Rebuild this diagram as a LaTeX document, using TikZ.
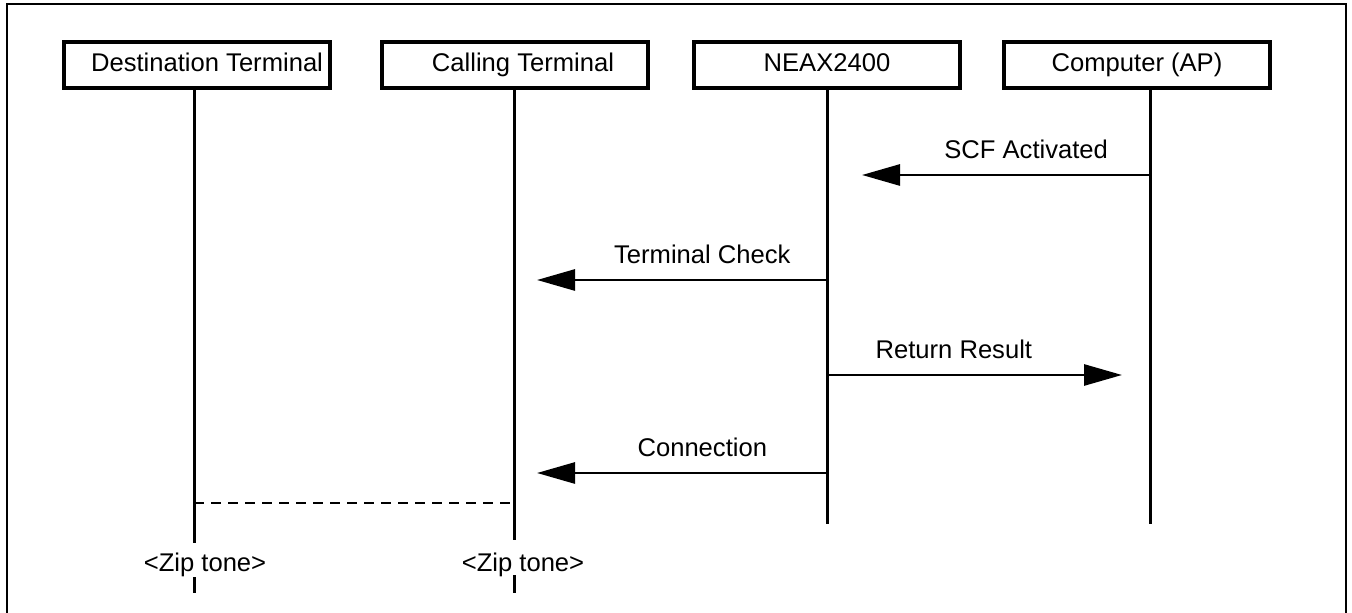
\documentclass[tikz,border=0pt]{standalone}
\usepackage{fontspec}
\setmainfont{Liberation Sans}
\usetikzlibrary{arrows.meta}
\begin{document}
\begin{tikzpicture}[x=0.5pt,y=-0.5pt,
  actor/.style={draw,line width=1.7pt,minimum width=133pt,minimum height=23pt,inner sep=0pt,
    text height=9pt,text depth=2.5pt,font=\fontsize{12.8pt}{15pt}\selectfont},
  lifeline/.style={line width=1.5pt},
  msg/.style={line width=1.4pt,-{Triangle[length=19pt,width=10.5pt]}},
  lbl/.style={font=\fontsize{12.8pt}{15pt}\selectfont,inner sep=0pt,anchor=base},
  tone/.style={line width=1.4pt,dash pattern=on 5pt off 3.5pt},
  frame/.style={line width=1.4pt}
]
\useasboundingbox (0,0) rectangle (1352,613);
\clip (0,0) rectangle (1352,613);
\draw[frame] (7,4) rectangle (1346,630);

% actors
\node[actor] (dest) at (197,65) {\hspace*{10pt}Destination Terminal};
\node[actor] (call) at (515,65) {\hspace*{8pt}Calling Terminal};
\node[actor] (neax) at (827,65) {NEAX2400};
\node[actor] (comp) at (1137,65) {Computer (AP)};

% lifeline coordinates
\coordinate (dA) at (194,543);
\coordinate (dB) at (194,577);
\coordinate (dC) at (194,593);
\coordinate (cA) at (514,540);
\coordinate (cB) at (514,575);
\coordinate (cC) at (514,593);
\coordinate (nA) at (827,524);
\coordinate (pA) at (1150,524);

\draw[lifeline] (dest.south -| dA) -- (dA);
\draw[lifeline] (dB) -- (dC);
\draw[lifeline] (call.south -| cA) -- (cA);
\draw[lifeline] (cB) -- (cC);
\draw[lifeline] (neax.south -| nA) -- (nA);
\draw[lifeline] (comp.south -| pA) -- (pA);

% message points
\coordinate (m1s) at (1150,175);
\coordinate (m1e) at (862,175);
\coordinate (m2s) at (827,280);
\coordinate (m2e) at (537,280);
\coordinate (m3s) at (827,375);
\coordinate (m3e) at (1122,375);
\coordinate (m4s) at (827,473);
\coordinate (m4e) at (537,473);

\draw[msg] (m1s) -- node[lbl,pos=0.43,yshift=8pt] {SCF Activated} (m1e);
\draw[msg] (m2s) -- node[lbl,pos=0.43,yshift=8pt] {Terminal Check} (m2e);
\draw[msg] (m3s) -- node[lbl,pos=0.43,yshift=8pt] {Return Result} (m3e);
\draw[msg] (m4s) -- node[lbl,pos=0.43,yshift=8pt] {Connection} (m4e);

% tone
\coordinate (t1) at (194,503);
\coordinate (t2) at (514,503);
\draw[tone] (t1) -- (t2);

\node[lbl] (z1) at (205,571) {<Zip tone>};
\node[lbl] (z2) at (523,571) {<Zip tone>};
\end{tikzpicture}
\end{document}
